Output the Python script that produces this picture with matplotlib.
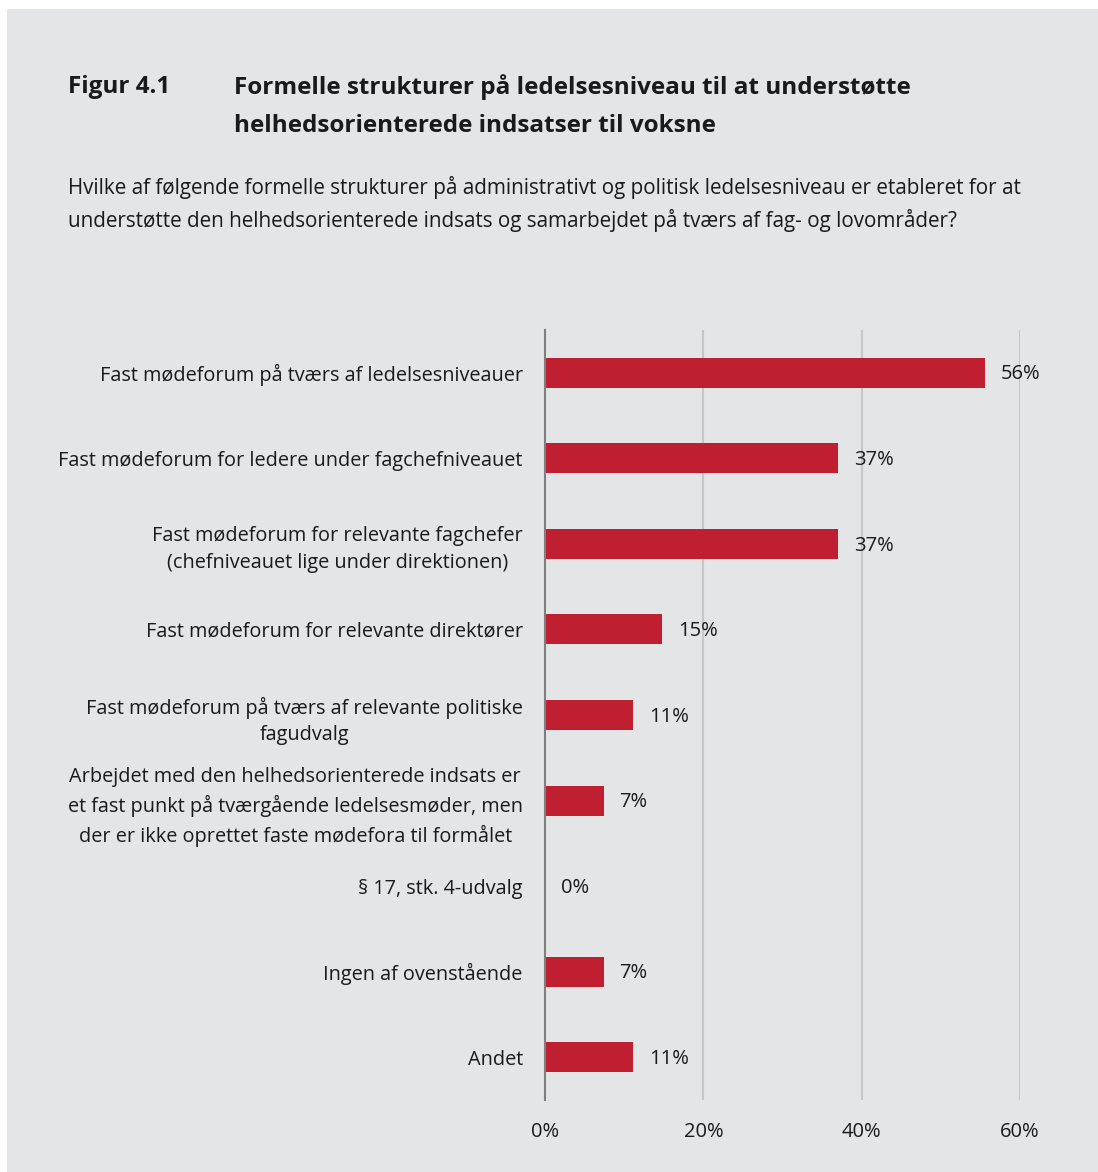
import matplotlib.pyplot as plt
from matplotlib.patches import Rectangle

plt.rcParams['font.family'] = ['Open Sans', 'DejaVu Sans']

# Data (n=27 respondents)
categories = [
    'Fast mødeforum på tværs af ledelsesniveauer',
    'Fast mødeforum for ledere under fagchefniveauet',
    'Fast mødeforum for relevante fagchefer\n(chefniveauet lige under direktionen)',
    'Fast mødeforum for relevante direktører',
    'Fast mødeforum på tværs af relevante politiske\nfagudvalg',
    'Arbejdet med den helhedsorienterede indsats er\net fast punkt på tværgående ledelsesmøder, men\nder er ikke oprettet faste mødefora til formålet',
    '§ 17, stk. 4-udvalg',
    'Ingen af ovenstående',
    'Andet',
]
values = [55.6, 37.0, 37.0, 14.8, 11.1, 7.4, 0.0, 7.4, 11.1]
xticks = [0, 20, 40, 60]

bg = '#e4e5e6'
red = '#c01f32'
txt = '#1a1a1a'

fig = plt.figure(figsize=(10.98, 11.72), dpi=100, facecolor='white')
fig.patches.append(Rectangle((7 / 1098, 0), 1, 1 - 9 / 1172, transform=fig.transFigure,
                             facecolor=bg, edgecolor='none', zorder=-10))

def fy(py):
    return 1 - py / 1172

fig.text(68 / 1098, fy(87), 'Figur 4.1', fontsize=17.5, fontweight='bold', va='center', color=txt)
fig.text(234 / 1098, fy(87), 'Formelle strukturer på ledelsesniveau til at understøtte',
         fontsize=17.5, fontweight='bold', va='center', color=txt)
fig.text(234 / 1098, fy(126), 'helhedsorienterede indsatser til voksne',
         fontsize=17.5, fontweight='bold', va='center', color=txt)
fig.text(68 / 1098, fy(188), 'Hvilke af følgende formelle strukturer på administrativt og politisk ledelsesniveau er etableret for at',
         fontsize=14.9, va='center', color=txt)
fig.text(68 / 1098, fy(220), 'understøtte den helhedsorienterede indsats og samarbejdet på tværs af fag- og lovområder?',
         fontsize=14.9, va='center', color=txt)

ax = fig.add_axes([545 / 1098, 1 - 1100 / 1172, 475 / 1098, 770 / 1172])
ax.set_facecolor('none')
ypos = list(range(len(categories)))
ax.barh(ypos, values, height=0.35, color=red, zorder=3)
ax.set_ylim(len(categories) - 0.5, -0.5)
ax.set_xlim(0, 60)

for y, v in zip(ypos, values):
    ax.text(v + 2.0, y + 0.02, f'{round(v)}%', va='center', ha='left', fontsize=14.5,
            color=txt, clip_on=False, zorder=4)

ax.set_yticks(ypos)
ax.set_yticklabels(categories, fontsize=14.3, color=txt, multialignment='center', linespacing=1.45)
ax.set_xticks(xticks)
ax.set_xticklabels([f'{t}%' for t in xticks], fontsize=14.5, color=txt)
ax.tick_params(axis='y', length=0, pad=16)
ax.tick_params(axis='x', length=0, pad=16)

for t in xticks[1:]:
    ax.axvline(t, color='#c6c6c6', linewidth=1.5, zorder=1)
for s in ['top', 'right', 'bottom']:
    ax.spines[s].set_visible(False)
ax.spines['left'].set_color('#7f7f7f')
ax.spines['left'].set_linewidth(1.5)
ax.spines['left'].set_zorder(5)

fig.savefig('out.png', dpi=100, facecolor='white')
